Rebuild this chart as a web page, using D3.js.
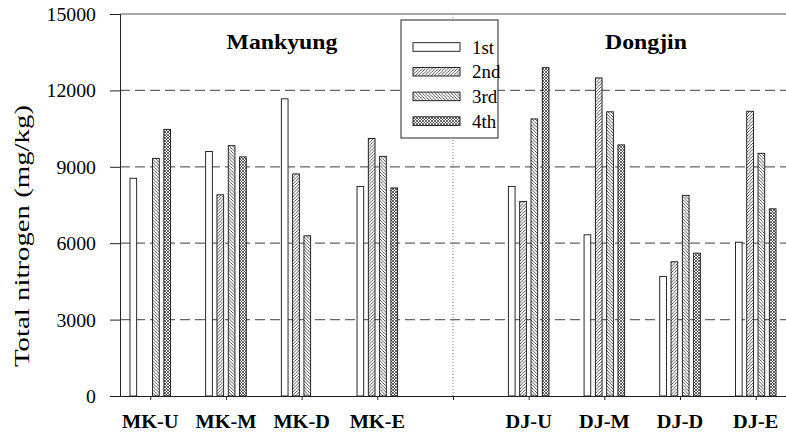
<!DOCTYPE html>
<html>
<head>
<meta charset="utf-8">
<script src="https://cdn.jsdelivr.net/npm/d3@7"></script>
<style>
  html, body { margin: 0; padding: 0; background: #fff; }
  svg { display: block; }
  text { font-family: "Liberation Serif", "Times New Roman", serif; fill: #000; }
</style>
</head>
<body>
<svg id="chart" width="786" height="437"></svg>
<script>
// ---- data ----
const categories = ["MK-U", "MK-M", "MK-D", "MK-E", "DJ-U", "DJ-M", "DJ-D", "DJ-E"];
const seriesNames = ["1st", "2nd", "3rd", "4th"];
const s1st = [8550, 9600, 11670, 8230, 8230, 6330, 4690, 6040];
const s2nd = [null, 7900, 8720, 10110, 7640, 12490, 5270, 11180];
const s3rd = [9330, 9830, 6290, 9410, 10880, 11160, 7880, 9530];
const s4th = [10470, 9390, null, 8170, 12890, 9860, 5610, 7350];
const yTicks = [0, 3000, 6000, 9000, 12000, 15000];
const siteTitles = ["Mankyung", "Dongjin"];
const series = [s1st, s2nd, s3rd, s4th];

// ---- layout ----
const svg = d3.select("#chart");
const mLeft = 120, mRight = 786, mTop = 14, mBottom = 396;
const y = d3.scaleLinear().domain([0, 15000]).range([mBottom, mTop]);
// slot positions: 4 Mankyung groups, an empty slot, 4 Dongjin groups
const slot = i => (i < 4 ? i : i + 1);
const x = d3.scaleLinear().domain([-0.4, 8.4]).range([mLeft, mRight]);
const barStep = 11.3, barW = 6.7;

function stretch(sel, f) {
  sel.each(function () {
    const L = this.getComputedTextLength();
    d3.select(this).attr("textLength", L * f).attr("lengthAdjust", "spacingAndGlyphs");
  });
}

// ---- patterns ----
const defs = svg.append("defs");
const p2 = defs.append("pattern").attr("id", "pat2").attr("patternUnits", "userSpaceOnUse")
  .attr("width", 3.2).attr("height", 3.2);
p2.append("rect").attr("width", 3.2).attr("height", 3.2).attr("fill", "#fff");
p2.append("path").attr("d", "M-0.8,0.8 L0.8,-0.8 M0,3.2 L3.2,0 M2.4,4 L4,2.4")
  .attr("stroke", "#222").attr("stroke-width", 0.75);
const p3 = defs.append("pattern").attr("id", "pat3").attr("patternUnits", "userSpaceOnUse")
  .attr("width", 3.2).attr("height", 3.2);
p3.append("rect").attr("width", 3.2).attr("height", 3.2).attr("fill", "#fff");
p3.append("path").attr("d", "M-0.8,2.4 L0.8,4 M0,0 L3.2,3.2 M2.4,-0.8 L4,0.8")
  .attr("stroke", "#222").attr("stroke-width", 0.75);
const p4 = defs.append("pattern").attr("id", "pat4").attr("patternUnits", "userSpaceOnUse")
  .attr("width", 3).attr("height", 3);
p4.append("rect").attr("width", 3).attr("height", 3).attr("fill", "#fff");
p4.append("path").attr("d", "M0,0 L3,3 M3,0 L0,3")
  .attr("stroke", "#222").attr("stroke-width", 0.7);
const fills = ["#fff", "url(#pat2)", "url(#pat3)", "url(#pat4)"];

// ---- gridlines ----
svg.append("g").selectAll("line").data(yTicks.filter(t => t > 0 && t < 15000)).join("line")
  .attr("x1", mLeft).attr("x2", mRight)
  .attr("y1", d => y(d)).attr("y2", d => y(d))
  .attr("stroke", "#666").attr("stroke-width", 1.2).attr("stroke-dasharray", "10,5");
// top frame line
svg.append("line").attr("x1", mLeft).attr("x2", mRight).attr("y1", y(15000)).attr("y2", y(15000))
  .attr("stroke", "#555").attr("stroke-width", 1.2);
// dotted divider
svg.append("line").attr("x1", x(4)).attr("x2", x(4)).attr("y1", y(15000)).attr("y2", y(0))
  .attr("stroke", "#777").attr("stroke-width", 1).attr("stroke-dasharray", "1,2");

// ---- bars ----
const gBars = svg.append("g");
series.forEach((vals, j) => {
  gBars.append("g").selectAll("rect")
    .data(vals.map((v, i) => ({ v, i })).filter(d => d.v != null))
    .join("rect")
    .attr("x", d => x(slot(d.i)) + (j - 1.5) * barStep - barW / 2)
    .attr("width", barW)
    .attr("y", d => y(d.v))
    .attr("height", d => y(0) - y(d.v))
    .attr("fill", fills[j])
    .attr("stroke", "#111").attr("stroke-width", 0.9);
});

// ---- axes ----
const yAxis = svg.append("g").attr("transform", `translate(${mLeft},0)`)
  .call(d3.axisLeft(y).tickValues(yTicks).tickFormat(d3.format("d")).tickSize(10).tickPadding(14));
yAxis.attr("font-family", null).attr("font-size", null);
yAxis.select(".domain").attr("stroke", "#222");
yAxis.selectAll(".tick line").attr("stroke", "#222");
yAxis.selectAll("text").attr("font-size", 18).attr("dy", "0.36em");
stretch(yAxis.selectAll("text"), 1.1);

const xAxis = svg.append("g").attr("transform", `translate(0,${mBottom})`)
  .call(d3.axisBottom(x).tickValues(d3.range(9)).tickFormat("").tickSize(4).tickSizeOuter(0));
xAxis.select(".domain").attr("stroke", "#222");
xAxis.selectAll(".tick line").attr("stroke", "#222");

const xl = svg.append("g").selectAll("text").data(categories).join("text")
  .attr("x", (d, i) => x(slot(i))).attr("y", 428)
  .attr("text-anchor", "middle").attr("font-weight", "bold").attr("font-size", 19)
  .text(d => d);
stretch(xl, 1.07);

// y title
const yt = svg.append("text")
  .attr("transform", "translate(29,236) rotate(-90)")
  .attr("text-anchor", "middle").attr("font-size", 21)
  .text("Total nitrogen (mg/kg)");
yt.attr("textLength", 262).attr("lengthAdjust", "spacingAndGlyphs");

// site titles
const tt = svg.append("g").selectAll("text").data(siteTitles).join("text")
  .attr("x", (d, i) => i === 0 ? x(1.74) : x(6.55)).attr("y", 49)
  .attr("text-anchor", "middle").attr("font-weight", "bold").attr("font-size", 22)
  .text(d => d);
stretch(tt, 1.08);

// ---- legend ----
const lg = svg.append("g");
lg.append("rect").attr("x", 401).attr("y", 20).attr("width", 97).attr("height", 118)
  .attr("fill", "#fff").attr("stroke", "#222").attr("stroke-width", 1);
const rows = lg.selectAll("g.row").data(seriesNames).join("g").attr("class", "row")
  .attr("transform", (d, i) => `translate(0,${47 + i * 24.7})`);
rows.append("rect").attr("x", 413).attr("y", -4.3).attr("width", 47).attr("height", 8.6)
  .attr("fill", (d, i) => fills[i]).attr("stroke", "#111").attr("stroke-width", 0.9);
const lt = rows.append("text").attr("x", 472).attr("y", 6.5).attr("font-size", 18).text(d => d);
stretch(lt, 1.05);
</script>
</body>
</html>
